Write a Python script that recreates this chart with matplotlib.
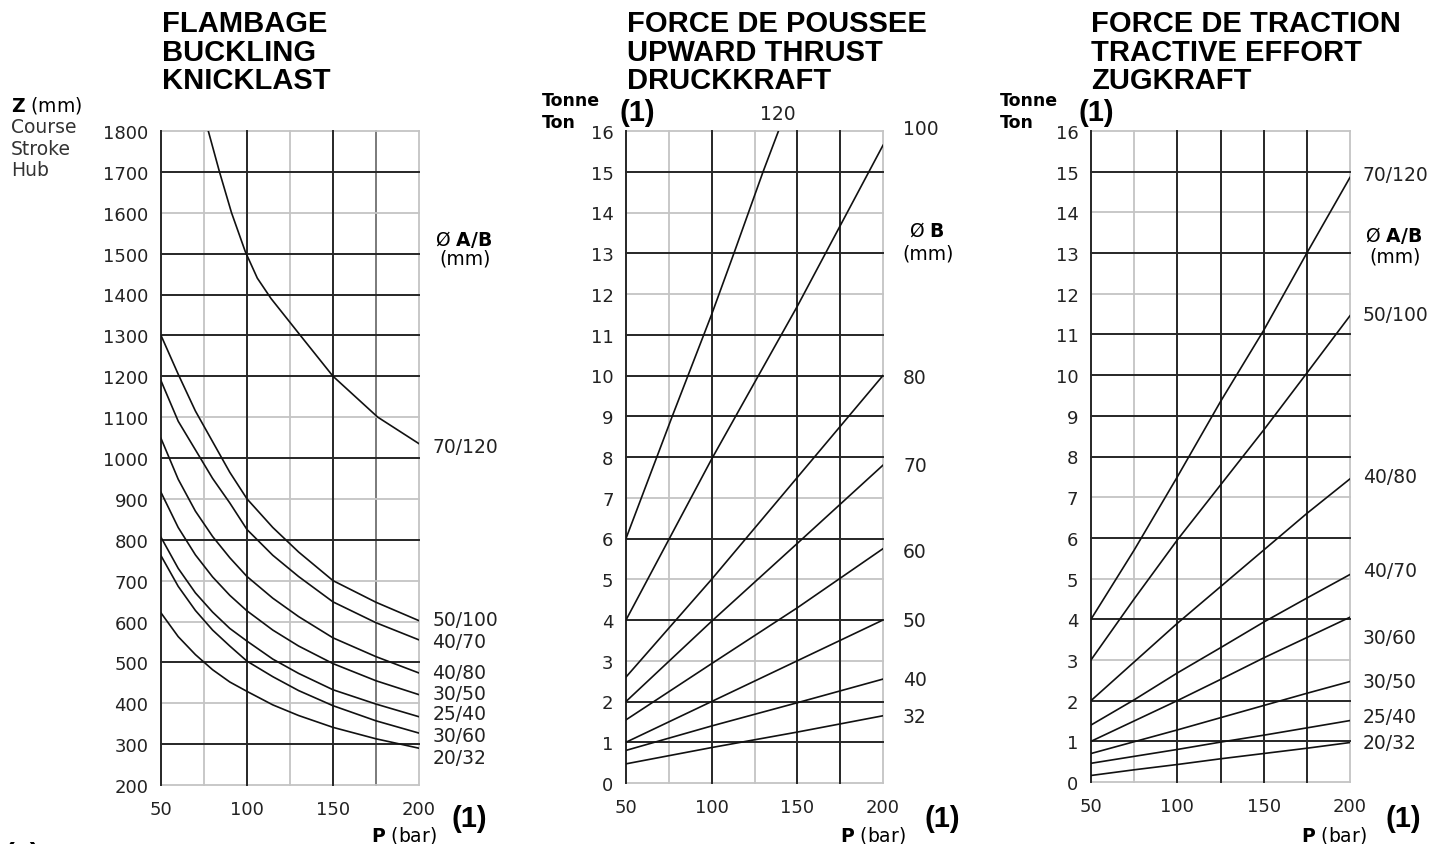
import matplotlib.pyplot as plt

# ---- valeurs ----

# FLAMBAGE : course max Z (mm) selon la pression P (bar)
p_flambage = [50, 60, 70, 80, 90, 100, 115, 130, 150, 175, 200]
labels_flambage = ['50/100', '40/70', '40/80', '30/50', '25/40', '30/60', '20/32']
z_flambage = [
    [1300, 1205, 1115, 1040, 965, 900, 830, 770, 700, 647, 602],
    [1189, 1090, 1020, 950, 890, 825, 762, 710, 648, 597, 555],
    [1048, 948, 870, 808, 756, 710, 657, 612, 560, 514, 474],
    [916, 830, 763, 709, 664, 626, 579, 540, 497, 455, 421],
    [806, 730, 670, 623, 583, 552, 508, 473, 433, 398, 367],
    [761, 686, 627, 579, 540, 503, 465, 431, 394, 357, 327],
    [621, 563, 519, 482, 452, 429, 396, 370, 341, 313, 290],
]
zlabel_flambage = [606, 552, 476, 425, 374, 322, 268]
p_70_120 = [77.5, 84, 91, 99, 106, 114, 131, 150, 176, 200]
z_70_120 = [1800, 1700, 1600, 1505, 1440, 1390, 1300, 1200, 1100, 1035]

# FORCE DE POUSSEE : tonnes selon P (bar), par diametre B
p_poussee = [50, 100, 150, 200]
labels_poussee = ['100', '80', '70', '60', '50', '40', '32']
t_poussee = [
    [4.0, 7.95, 11.7, 15.65],
    [2.6, 5.0, 7.5, 10.0],
    [2.0, 3.97, 5.88, 7.8],
    [1.55, 2.93, 4.3, 5.75],
    [1.0, 2.0, 3.0, 4.0],
    [0.8, 1.4, 1.97, 2.55],
    [0.47, 0.87, 1.25, 1.65],
]
tlabel_poussee = [16.05, 9.96, 7.78, 5.67, 3.98, 2.53, 1.62]
p_120 = [50, 59, 68, 77, 100, 113, 130, 139]
t_120 = [6, 7, 8, 9, 11.5, 13, 15, 16]

# FORCE DE TRACTION : tonnes selon P (bar), par diametre A/B
p_traction = [50, 75, 100, 125, 150, 175, 200]
labels_traction = ['70/120', '50/100', '40/80', '40/70', '30/60', '30/50', '25/40', '20/32']
t_traction = [
    [4.0, 5.7, 7.5, 9.35, 11.1, 13.0, 14.86],
    [3.0, 4.5, 5.95, 7.3, 8.65, 10.05, 11.46],
    [2.0, 2.95, 3.9, 4.8, 5.7, 6.6, 7.45],
    [1.4, 2.02, 2.68, 3.3, 3.93, 4.52, 5.1],
    [1.0, 1.5, 2.0, 2.52, 3.05, 3.55, 4.05],
    [0.7, 0.99, 1.28, 1.58, 1.88, 2.18, 2.47],
    [0.46, 0.63, 0.8, 0.98, 1.15, 1.33, 1.51],
    [0.16, 0.3, 0.43, 0.57, 0.7, 0.83, 0.97],
]
tlabel_traction = [14.92, 11.5, 7.5, 5.21, 3.56, 2.48, 1.6, 0.96]

x_ticks = [50, 100, 150, 200]

# ---- figure ----
plt.rcParams['font.family'] = ['DejaVu Sans']
W, H = 1448, 845
fig = plt.figure(figsize=(W / 100, H / 100), dpi=100)


def fx(px):
    return px / W


def fy(py):
    return 1 - py / H


DARK, MED, LIGHT = '#262626', '#707070', '#c4c4c4'
TITLE = dict(family='Liberation Sans', weight='bold', fontsize=21)
BIG1 = dict(family='Liberation Sans', weight='bold', fontsize=21)


def panel(box, ylim, yticks, xdark, xmed, xlight, ydark, ylight):
    ax = fig.add_axes([fx(box[0]), fy(box[3]), fx(box[2] - box[0]), (box[3] - box[1]) / H])
    ax.set_xlim(50, 200)
    ax.set_ylim(*ylim)
    ax.set_xticks(x_ticks)
    ax.set_yticks(yticks)
    ax.tick_params(axis='x', length=0, pad=11, labelsize=13, colors='#222')
    ax.tick_params(axis='y', length=0, pad=9, labelsize=13, colors='#222')
    for s in ax.spines.values():
        s.set_visible(False)
    for v in xlight:
        ax.axvline(v, color=LIGHT, lw=1.3, zorder=1, clip_on=False)
    for v in xmed:
        ax.axvline(v, color=MED, lw=1.3, zorder=1, clip_on=False)
    for v in ylight:
        ax.axhline(v, color=LIGHT, lw=1.3, zorder=1, clip_on=False)
    for v in ydark:
        ax.axhline(v, color=DARK, lw=1.4, zorder=2, clip_on=False)
    for v in [50] + xdark:
        ax.axvline(v, color=DARK, lw=1.4, zorder=2, clip_on=False)
    return ax


# --- FLAMBAGE ---
ax1 = panel((161, 132, 419, 786), (200, 1800), list(range(200, 1801, 100)),
            [100, 150], [175], [75, 125, 200],
            [300, 500, 800, 1000, 1200, 1300, 1400, 1500, 1700],
            [200, 400, 600, 700, 900, 1100, 1600, 1800])
for z, lab, yl in zip(z_flambage, labels_flambage, zlabel_flambage):
    ax1.plot(p_flambage, z, color='#111', lw=1.2, zorder=3)
    ax1.text(207.8, yl, lab, fontsize=13.5, va='center', color='#222')
ax1.plot(p_70_120, z_70_120, color='#111', lw=1.2, zorder=3)
ax1.text(207.8, 1029, '70/120', fontsize=13.5, va='center', color='#222')

# --- FORCE DE POUSSEE ---
ax2 = panel((626, 132, 883, 784), (0, 16), list(range(0, 17)),
            [100, 150, 175], [], [75, 125, 200],
            [1, 2, 4, 6, 8, 9, 10, 11, 13, 15], [0, 3, 5, 7, 12, 14, 16])
for t, lab, yl in zip(t_poussee, labels_poussee, tlabel_poussee):
    ax2.plot(p_poussee, t, color='#111', lw=1.2, zorder=3)
    ax2.text(211.7, yl, lab, fontsize=13.5, va='center', color='#222')
ax2.plot(p_120, t_120, color='#111', lw=1.2, zorder=3)
ax2.text(138.7, 16.44, '120', fontsize=13.5, ha='center', va='center', color='#222')

# --- FORCE DE TRACTION ---
ax3 = panel((1091, 132, 1350, 783), (0, 16), list(range(0, 17)),
            [100, 125, 150, 175], [], [75, 200],
            [1, 2, 4, 6, 8, 9, 10, 11, 13, 15], [0, 3, 5, 7, 12, 14, 16])
for t, lab, yl in zip(t_traction, labels_traction, tlabel_traction):
    ax3.plot(p_traction, t, color='#111', lw=1.2, zorder=3)
    ax3.text(207.5, yl, lab, fontsize=13.5, va='center', color='#222')

# ---- titres ----
titles = [(162, ['FLAMBAGE', 'BUCKLING', 'KNICKLAST']),
          (627, ['FORCE DE POUSSEE', 'UPWARD THRUST', 'DRUCKKRAFT']),
          (1091, ['FORCE DE TRACTION', 'TRACTIVE EFFORT', 'ZUGKRAFT'])]
for x0, lines in titles:
    for line, base in zip(lines, [32, 61, 89]):
        fig.text(fx(x0), fy(base), line, va='baseline', **TITLE)

# ---- legendes d'axes ----
fig.text(fx(11), fy(112), r'$\mathbf{Z}$ (mm)', fontsize=13.5, va='baseline')
for word, base in zip(['Course', 'Stroke', 'Hub'], [133, 155, 176]):
    fig.text(fx(11), fy(base), word, fontsize=13.5, va='baseline', color='#333')

for xc in [542, 1000]:
    fig.text(fx(xc), fy(101), 'Tonne', fontsize=12.5, weight='bold', va='center')
    fig.text(fx(xc), fy(123), 'Ton', fontsize=12.5, weight='bold', va='center')

fig.text(fx(464), fy(240), r'Ø $\mathbf{A/B}$', fontsize=13.5, ha='center', va='center')
fig.text(fx(465), fy(259), '(mm)', fontsize=13.5, ha='center', va='center')
fig.text(fx(927), fy(231), r'Ø $\mathbf{B}$', fontsize=13.5, ha='center', va='center')
fig.text(fx(928), fy(254), '(mm)', fontsize=13.5, ha='center', va='center')
fig.text(fx(1394), fy(235), r'Ø $\mathbf{A/B}$', fontsize=13.5, ha='center', va='center')
fig.text(fx(1395), fy(257), '(mm)', fontsize=13.5, ha='center', va='center')

for xc in [404, 873, 1334]:
    fig.text(fx(xc), fy(836), r'$\mathbf{P}$ (bar)', fontsize=13.5, ha='center', va='center')

# ---- renvois (1) ----
for xc in [469, 942, 1403]:
    fig.text(fx(xc), fy(819), '(1)', ha='center', va='center', **BIG1)
for xc in [637, 1096]:
    fig.text(fx(xc), fy(113), '(1)', ha='center', va='center', **BIG1)
# renvoi coupe par le bord bas, comme sur l'original
fig.text(fx(4), fy(842), '(1)', ha='left', va='top', **BIG1)

fig.savefig('out.png', dpi=100, facecolor='white')
